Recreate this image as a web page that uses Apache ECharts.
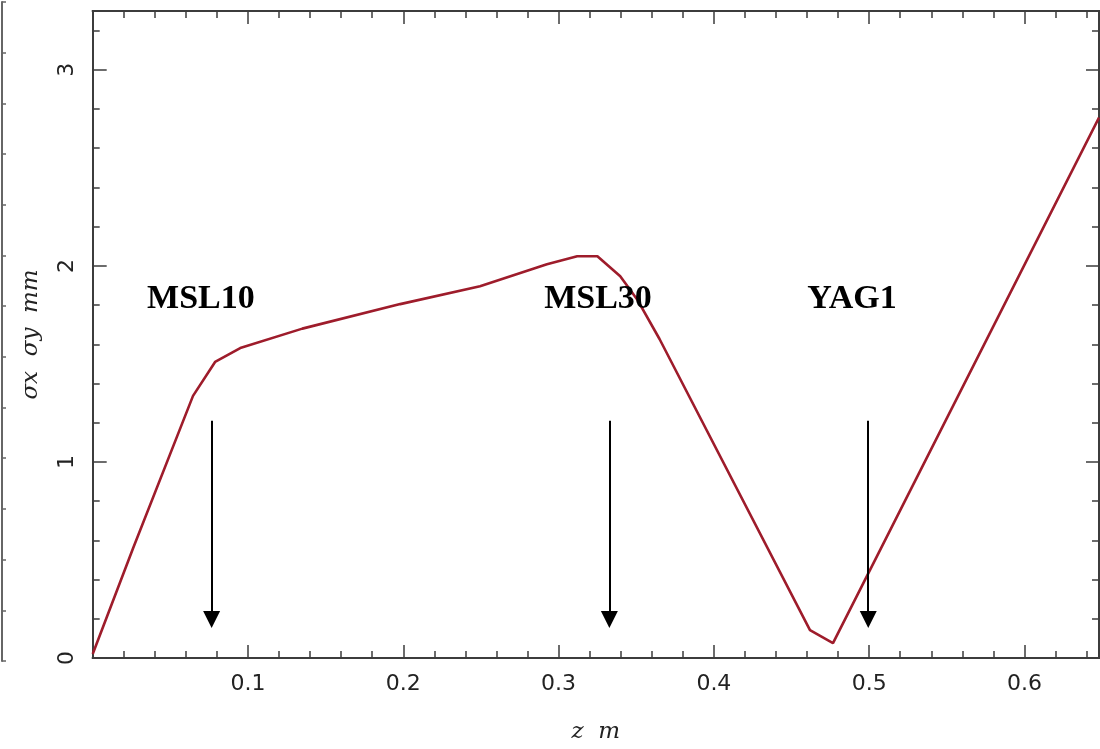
<!DOCTYPE html>
<html>
<head>
<meta charset="utf-8">
<style>
  html, body { margin: 0; padding: 0; background: #fff; }
  #chart { width: 1100px; height: 749px; }
</style>
<script src="https://cdn.jsdelivr.net/npm/echarts@6/dist/echarts.min.js"></script>
</head>
<body>
<div id="chart"></div>
<script>
// Beam envelope along the line: z (m) and sigma (mm)
const zValues = [0, 0.026, 0.0646, 0.0788, 0.0950, 0.135, 0.198, 0.2494, 0.2925, 0.312, 0.325, 0.3397, 0.3505, 0.365, 0.4619, 0.4767, 0.648];
const sigmaValues = [0.02, 0.56, 1.337, 1.510, 1.581, 1.68, 1.805, 1.896, 2.008, 2.049, 2.049, 1.947, 1.830, 1.627, 0.142, 0.076, 2.756];

// Screen/diagnostic names and where they sit
const deviceNames = ['MSL10', 'MSL30', 'YAG1'];
const deviceLabelZ = [0.0697, 0.3254, 0.489];
const deviceLabelY = [1.83, 1.83, 1.83];
const arrowZ = [0.0766, 0.3327, 0.4994];
const arrowTop = 1.21;
const arrowHeadCentre = 0.197;

const axisName = { x: 'z  m', y: 'σx  σy  mm' };

const axisColor = '#3c3c3c';
const curveColor = '#9e1c2b';
const tickFont = { fontFamily: 'DejaVu Sans', fontSize: 22, color: '#222' };
const nameFont = { fontFamily: 'DejaVu Serif', fontStyle: 'italic', fontSize: 23, color: '#222' };

const chart = echarts.init(document.getElementById('chart'), null, { renderer: 'canvas' });

function xAxisDef(pos, step, len, withLabels) {
  return {
    type: 'value', gridIndex: 0, position: pos, min: 0, max: 0.648, interval: step,
    axisLine: { show: true, onZero: false, lineStyle: { color: axisColor, width: 2 } },
    axisTick: { show: true, inside: true, length: len, lineStyle: { color: axisColor, width: 1.5 } },
    splitLine: { show: false },
    axisLabel: withLabels ? Object.assign({ show: true, margin: 15, showMinLabel: false, showMaxLabel: false }, tickFont) : { show: false },
    name: withLabels ? axisName.x : '',
    nameLocation: 'middle', nameGap: 63,
    nameTextStyle: nameFont
  };
}
function yAxisDef(pos, step, len, withLabels) {
  return {
    type: 'value', gridIndex: 0, position: pos, min: 0, max: 3.3, interval: step,
    axisLine: { show: true, onZero: false, lineStyle: { color: axisColor, width: 2 } },
    axisTick: { show: true, inside: true, length: len, lineStyle: { color: axisColor, width: 1.5 } },
    splitLine: { show: false },
    axisLabel: withLabels ? Object.assign({ show: true, margin: 14, rotate: 90, showMaxLabel: false }, tickFont) : { show: false },
    name: withLabels ? axisName.y : '',
    nameLocation: 'middle', nameGap: 50, nameRotate: 90,
    nameTextStyle: nameFont
  };
}

const option = {
  backgroundColor: '#fff',
  animation: false,
  grid: [
    { left: 92.7, right: 1, top: 11, bottom: 89 },
    // neighbouring panel's frame at the left border
    { left: -200, width: 202, top: 2, height: 659 }
  ],
  xAxis: [
    xAxisDef('bottom', 0.1, 13, true),
    xAxisDef('bottom', 0.02, 7, false),
    xAxisDef('top', 0.1, 13, false),
    xAxisDef('top', 0.02, 7, false),
    { type: 'value', gridIndex: 1, show: false, min: 0, max: 1 }
  ],
  yAxis: [
    yAxisDef('left', 1, 14, true),
    yAxisDef('left', 0.2, 7, false),
    yAxisDef('right', 1, 13, false),
    yAxisDef('right', 0.2, 7, false),
    {
      type: 'value', gridIndex: 1, position: 'right', min: 0, max: 13, interval: 1,
      axisLine: { show: true, lineStyle: { color: '#666', width: 2 } },
      axisTick: { show: true, inside: false, length: 4, lineStyle: { color: '#666', width: 1.5 } },
      axisLabel: { show: false }, splitLine: { show: false }
    }
  ],
  series: [
    {
      type: 'line', xAxisIndex: 0, yAxisIndex: 0,
      data: zValues.map((z, i) => [z, sigmaValues[i]]),
      showSymbol: false, symbol: 'none', smooth: false,
      lineStyle: { color: curveColor, width: 2.6 },
      z: 3
    },
    {
      type: 'scatter', xAxisIndex: 0, yAxisIndex: 0,
      data: deviceNames.map((n, i) => ({ name: n, value: [deviceLabelZ[i], deviceLabelY[i]] })),
      symbolSize: 1,
      itemStyle: { color: 'rgba(0,0,0,0)', opacity: 1 },
      label: {
        show: true, position: [0.5, 0.5], align: 'center', verticalAlign: 'middle',
        formatter: p => p.name, opacity: 1,
        fontFamily: 'Liberation Serif', fontWeight: 'bold', fontSize: 34, color: '#000',
        textBorderWidth: 0
      },
      markLine: {
        silent: true,
        symbol: ['none', 'triangle'],
        symbolSize: [17, 17],
        label: { show: false },
        lineStyle: { color: '#000', width: 2, type: 'solid', opacity: 1 },
        itemStyle: { color: '#000' },
        data: arrowZ.map(z => [{ coord: [z, arrowTop] }, { coord: [z, arrowHeadCentre] }])
      },
      z: 4
    }
  ]
};

chart.setOption(option);
</script>
</body>
</html>
